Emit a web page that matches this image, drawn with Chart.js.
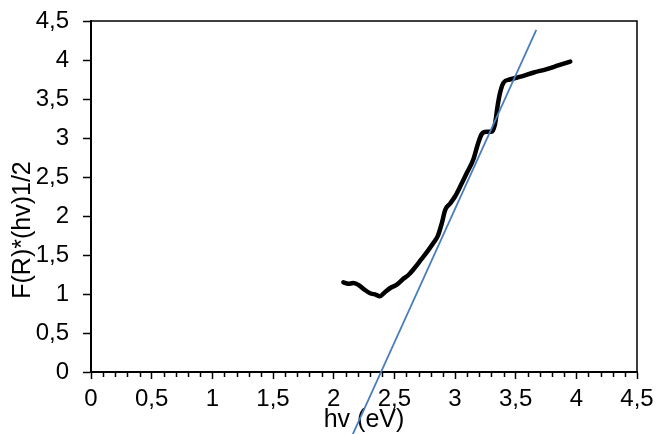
<!DOCTYPE html>
<html>
<head>
<meta charset="utf-8">
<script src="https://cdn.jsdelivr.net/npm/chart.js@4/dist/chart.umd.min.js"></script>
<style>
  html, body { margin: 0; padding: 0; background: #fff; }
</style>
</head>
<body>
<canvas id="chart" width="657" height="434"></canvas>
<script>
// measured curve: photon energy (eV) vs F(R)*(hv)^1/2
const hv = [2.08, 2.12, 2.16, 2.20, 2.25, 2.30, 2.35, 2.38, 2.42, 2.47, 2.52, 2.57, 2.62, 2.67,
  2.72, 2.77, 2.82, 2.86, 2.89, 2.92, 2.96, 3.00, 3.05, 3.10, 3.15, 3.19, 3.22, 3.26, 3.30,
  3.33, 3.35, 3.37, 3.40, 3.45, 3.55, 3.65, 3.75, 3.85, 3.95]
const fr = [1.15, 1.13, 1.14, 1.12, 1.06, 1.01, 0.99, 0.97, 1.02, 1.08, 1.12, 1.19, 1.25, 1.34,
  1.44, 1.54, 1.65, 1.75, 1.90, 2.08, 2.16, 2.25, 2.40, 2.56, 2.72, 2.93, 3.05, 3.08, 3.08,
  3.18, 3.40, 3.57, 3.71, 3.75, 3.79, 3.84, 3.88, 3.93, 3.98]

// linear fit (tangent) end points
const fitX = [2.157, 3.67]
const fitY = [-0.8, 4.385]

const xTitle = "hv (eV)"
const yTitle = "F(R)*(hv)1/2"

const FONT = "'Liberation Sans', Arial, sans-serif"
const fmt = v => String(Math.round(v * 10) / 10).replace(".", ",")

// box + minor x ticks + rotated y title (Excel style)
const excelFrame = {
  id: "excelFrame",
  afterDraw(chart) {
    const { ctx, chartArea: a, scales: { x } } = chart
    ctx.save()
    ctx.strokeStyle = "#000"
    ctx.lineWidth = 1.5
    ctx.beginPath()
    ctx.moveTo(a.left, a.top)
    ctx.lineTo(a.right, a.top)
    ctx.lineTo(a.right, a.bottom)
    ctx.stroke()

    ctx.beginPath()
    for (let i = 1; i < 45; i++) {
      if (i % 5 === 0) continue
      const px = Math.round(x.getPixelForValue(i / 10)) + 0.5
      ctx.moveTo(px, a.bottom)
      ctx.lineTo(px, a.bottom + 5)
    }
    ctx.stroke()

    ctx.translate(30, 230)
    ctx.rotate(-Math.PI / 2)
    ctx.fillStyle = "#000"
    ctx.font = "25px " + FONT
    ctx.textAlign = "center"
    ctx.textBaseline = "alphabetic"
    ctx.fillText(yTitle, 0, 0)
    ctx.restore()
  }
}

new Chart(document.getElementById("chart"), {
  type: "line",
  data: {
    datasets: [
      {
        data: fitX.map((v, i) => ({ x: v, y: fitY[i] })),
        borderColor: "#4a7ebb",
        borderWidth: 1.8,
        pointRadius: 0,
        clip: false
      },
      {
        data: hv.map((v, i) => ({ x: v, y: fr[i] })),
        borderColor: "#000",
        borderWidth: 4.5,
        pointRadius: 0,
        cubicInterpolationMode: "monotone",
        borderCapStyle: "round",
        borderJoinStyle: "round"
      }
    ]
  },
  options: {
    responsive: false,
    animation: false,
    devicePixelRatio: 1,
    layout: { padding: { top: 21, right: 20, bottom: 0, left: 0 } },
    plugins: { legend: { display: false }, tooltip: { enabled: false } },
    scales: {
      x: {
        type: "linear",
        min: 0,
        max: 4.5,
        afterFit: s => { s.height = 62; s.paddingLeft = 0; s.paddingRight = 0 },
        border: { color: "#000", width: 2 },
        grid: { drawOnChartArea: false, tickLength: 7, tickWidth: 1.5, tickColor: "#000" },
        ticks: {
          stepSize: 0.5,
          autoSkip: false,
          maxRotation: 0,
          padding: 6,
          color: "#000",
          font: { family: FONT, size: 24 },
          callback: v => fmt(v)
        },
        title: {
          display: true,
          text: xTitle,
          color: "#000",
          font: { family: FONT, size: 25 },
          padding: { top: 0, bottom: -1 }
        }
      },
      y: {
        min: 0,
        max: 4.5,
        afterFit: s => { s.width = 91; s.paddingTop = 0; s.paddingBottom = 0 },
        border: { color: "#000", width: 2 },
        grid: { drawOnChartArea: false, tickLength: 8, tickWidth: 1.5, tickColor: "#000" },
        ticks: {
          stepSize: 0.5,
          padding: 14,
          color: "#000",
          font: { family: FONT, size: 24 },
          callback: v => fmt(v)
        }
      }
    }
  },
  plugins: [excelFrame]
})
</script>
</body>
</html>
